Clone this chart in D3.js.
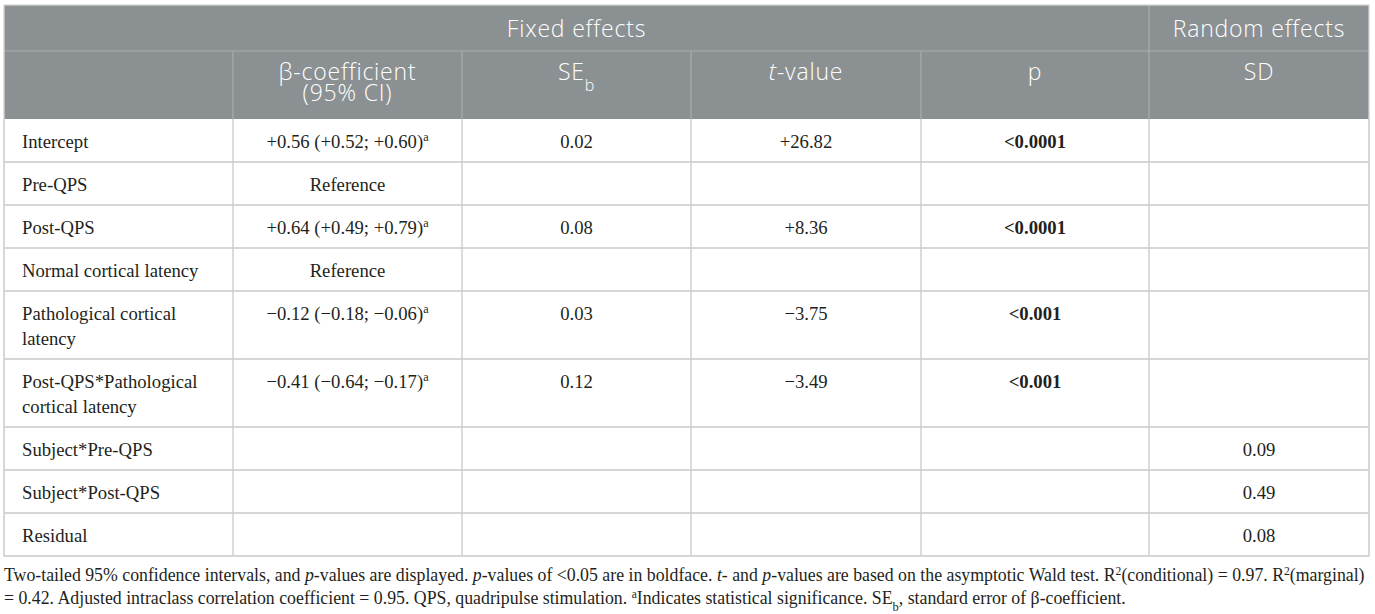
<!DOCTYPE html>
<html>
    <head>
        <title>Mixed model table</title>
        <meta charset="UTF-8">
        <script src="https://cdn.jsdelivr.net/npm/d3@7"></script>
        <style>
body { margin: 0; background: #fff; }
.hd { font-family: "Open Sans", sans-serif; fill: #fff; font-weight: 350; letter-spacing: 0.8px; }
.bd { font-family: "Liberation Serif", serif; fill: #231f20; }
        </style>
    </head>
	<body>
		<script>
// table content
var rowLabels = ["Intercept", "Pre-QPS", "Post-QPS", "Normal cortical latency",
                 "Pathological cortical\nlatency", "Post-QPS*Pathological\ncortical latency",
                 "Subject*Pre-QPS", "Subject*Post-QPS", "Residual"];
var betaValues = ["+0.56 (+0.52; +0.60)", "Reference", "+0.64 (+0.49; +0.79)", "Reference",
                  "\u22120.12 (\u22120.18; \u22120.06)", "\u22120.41 (\u22120.64; \u22120.17)", "", "", ""];
var betaSig = [true, false, true, false, true, true, false, false, false];
var seValues = ["0.02", "", "0.08", "", "0.03", "0.12", "", "", ""];
var tValues = ["+26.82", "", "+8.36", "", "\u22123.75", "\u22123.49", "", "", ""];
var pValues = ["<0.0001", "", "<0.0001", "", "<0.001", "<0.001", "", "", ""];
var sdValues = ["", "", "", "", "", "", "0.09", "0.49", "0.08"];

var W = 1375, H = 614;
var left = 4, right = 1369;
var colEdges = [233, 462, 691, 921, 1149, 1369];
var top0 = 5, head1 = 51, head2 = 119;
var lineH = 25, rowPad = 18;

var svg;

function create_svg(){
    svg = d3.select("body")
            .append("svg")
            .attr("width", W)
            .attr("height", H);
    return svg;
}

function rich(sel, parts){
    parts.forEach(function(p){
        var t = sel.append("tspan").text(p.t);
        if(p.i) t.attr("font-style", "italic");
        if(p.b) t.attr("font-weight", "bold");
        if(p.sup) t.attr("baseline-shift", "super").attr("font-size", "0.65em");
        if(p.sub) t.attr("baseline-shift", "sub").attr("font-size", "0.7em");
    });
}

function draw_table(){
    var lines = rowLabels.map(function(d){ return d.split("\n").length; });
    var heights = lines.map(function(n){ return rowPad + n * lineH; });
    var tops = [];
    var acc = head2;
    heights.forEach(function(h){ tops.push(acc); acc += h; });
    var bottom = acc;

    // value columns
    var x = d3.scaleOrdinal().domain(d3.range(5)).range(colEdges.slice(0, 5));
    var xEnd = d3.scaleOrdinal().domain(d3.range(5)).range(colEdges.slice(1));
    var mid = function(i){ return (x(i) + xEnd(i)) / 2; };

    // header background
    svg.append("rect")
       .attr("x", left).attr("y", top0)
       .attr("width", right - left).attr("height", head2 - top0)
       .attr("fill", "#8b9093");

    // header lines
    var hl = svg.append("g").attr("stroke", "#a9adb0").attr("stroke-width", 1.2);
    hl.append("line").attr("x1", left).attr("x2", right).attr("y1", head1).attr("y2", head1);
    hl.append("line").attr("x1", colEdges[4]).attr("x2", colEdges[4]).attr("y1", top0).attr("y2", head2);
    hl.selectAll("line.v").data(colEdges.slice(0, 4)).enter().append("line")
      .attr("class", "v")
      .attr("x1", function(d){ return d; }).attr("x2", function(d){ return d; })
      .attr("y1", head1).attr("y2", head2);

    // body grid
    var g = svg.append("g").attr("stroke", "#c9c9c9").attr("stroke-width", 1.3).attr("fill", "none");
    g.selectAll("line.h").data(tops.slice(1).concat([bottom])).enter().append("line")
     .attr("class", "h")
     .attr("x1", left).attr("x2", right)
     .attr("y1", function(d){ return d; }).attr("y2", function(d){ return d; });
    g.selectAll("line.v").data([left].concat(colEdges)).enter().append("line")
     .attr("class", "v")
     .attr("x1", function(d){ return d; }).attr("x2", function(d){ return d; })
     .attr("y1", head2).attr("y2", bottom);
    svg.append("rect").attr("x", left).attr("y", top0)
       .attr("width", right - left).attr("height", bottom - top0)
       .attr("fill", "none").attr("stroke", "#d4d4d4").attr("stroke-width", 1.3);

    // header text
    var hs = 23;
    svg.append("text").attr("class", "hd").attr("font-size", hs)
       .attr("x", (left + colEdges[4]) / 2).attr("y", 37).attr("text-anchor", "middle")
       .text("Fixed effects");
    svg.append("text").attr("class", "hd").attr("font-size", hs)
       .attr("x", mid(4)).attr("y", 37).attr("text-anchor", "middle")
       .text("Random effects");
    var heads = [
        [[{t: "\u03b2-coefficient"}], [{t: "(95% CI)"}]],
        [[{t: "SE"}, {t: "b", sub: true}]],
        [[{t: "t", i: true}, {t: "-value"}]],
        [[{t: "p"}]],
        [[{t: "SD"}]]
    ];
    heads.forEach(function(h, i){
        h.forEach(function(ln, j){
            var t = svg.append("text").attr("class", "hd").attr("font-size", hs)
                       .attr("x", mid(i)).attr("y", 80 + j * 21).attr("text-anchor", "middle");
            rich(t, ln);
        });
    });

    // body text
    var fs = 18.7;
    var rows = svg.append("g").attr("class", "bd").attr("font-size", fs)
                  .selectAll("g").data(rowLabels).enter().append("g")
                  .attr("transform", function(d, i){ return "translate(0," + (tops[i] + 28.5) + ")"; });
    rows.each(function(d, i){
        var r = d3.select(this);
        d.split("\n").forEach(function(s, j){
            r.append("text").attr("x", 22).attr("y", j * lineH).text(s);
        });
        var cols = [betaValues[i], seValues[i], tValues[i], pValues[i], sdValues[i]];
        cols.forEach(function(v, c){
            if(!v) return;
            var t = r.append("text").attr("x", mid(c)).attr("y", 0).attr("text-anchor", "middle");
            if(c == 0 && betaSig[i]){
                rich(t, [{t: v}, {t: "a", sup: true}]);
            }else if(c == 3){
                rich(t, [{t: v, b: true}]);
            }else{
                t.text(v);
            }
        });
    });
    return bottom;
}

function draw_notes(bottom){
    var note1 = [
        {t: "Two-tailed 95% confidence intervals, and "}, {t: "p", i: true},
        {t: "-values are displayed. "}, {t: "p", i: true},
        {t: "-values of <0.05 are in boldface. "}, {t: "t", i: true}, {t: "- and "},
        {t: "p", i: true}, {t: "-values are based on the asymptotic Wald test. R"},
        {t: "2", sup: true}, {t: "(conditional) = 0.97. R"}, {t: "2", sup: true},
        {t: "(marginal)"}
    ];
    var note2 = [
        {t: "= 0.42. Adjusted intraclass correlation coefficient = 0.95. QPS, quadripulse stimulation. "},
        {t: "a", sup: true}, {t: "Indicates statistical significance. SE"}, {t: "b", sub: true},
        {t: ", standard error of \u03b2-coefficient."}
    ];
    var fs = 17.8;
    [note1, note2].forEach(function(n, i){
        var t = svg.append("text").attr("class", "bd").attr("font-size", fs)
                   .attr("x", 4).attr("y", bottom + 25 + i * 23);
        rich(t, n);
    });
}

window.onload = function(){
    create_svg();
    var bottom = draw_table();
    draw_notes(bottom);
}
		</script>
	</body>
</html>
